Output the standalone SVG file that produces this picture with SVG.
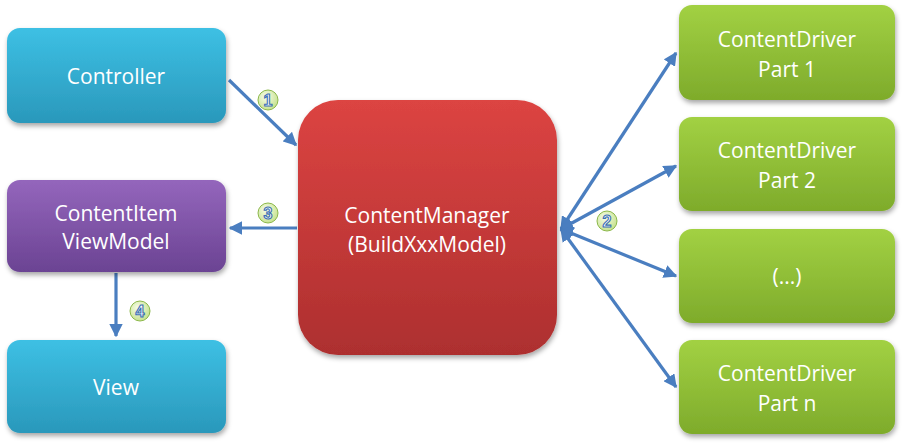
<svg xmlns="http://www.w3.org/2000/svg" width="904" height="443" viewBox="0 0 904 443">
<defs>
<linearGradient id="gCyan" x1="0" y1="0" x2="0" y2="1"><stop offset="0" stop-color="#3dc0e4"/><stop offset="1" stop-color="#2a98bb"/></linearGradient>
<linearGradient id="gPurple" x1="0" y1="0" x2="0" y2="1"><stop offset="0" stop-color="#9466bc"/><stop offset="1" stop-color="#6b4393"/></linearGradient>
<linearGradient id="gRed" x1="0" y1="0" x2="0" y2="1"><stop offset="0" stop-color="#dc4442"/><stop offset="1" stop-color="#ad2f2f"/></linearGradient>
<linearGradient id="gGreen" x1="0" y1="0" x2="0" y2="1"><stop offset="0" stop-color="#a2d143"/><stop offset="1" stop-color="#7eab2b"/></linearGradient>
<radialGradient id="gBadge" cx="0.4" cy="0.35" r="0.7"><stop offset="0" stop-color="#f7fde8"/><stop offset="1" stop-color="#c3e08a"/></radialGradient>
<filter id="sh" x="-10%" y="-10%" width="120%" height="125%"><feDropShadow dx="1" dy="3" stdDeviation="2.5" flood-color="#000" flood-opacity="0.35"/></filter>
<marker id="ah" viewBox="0 0 10 10" refX="9" refY="5" markerWidth="4.2" markerHeight="4.2" orient="auto-start-reverse" markerUnits="strokeWidth"><path d="M0,0 L10,5 L0,10 z" fill="#4a7ec0"/></marker>
</defs>
<style>
.box{stroke:none;filter:url(#sh)}
.t{font-family:"Open Sans","Liberation Sans",sans-serif;font-size:21px;fill:#ffffff;text-anchor:middle}
.c{stroke:#4a7ec0;stroke-width:3.2;fill:none}
.bc{fill:url(#gBadge);stroke:#8cb84a;stroke-width:1}
.bt{font-family:"Liberation Sans",sans-serif;font-size:16px;font-weight:bold;fill:#ffffff;stroke:#3b6fb3;stroke-width:1.1;text-anchor:middle}
</style>
<rect width="904" height="443" fill="#ffffff"/>
<g id="connectors">
<line class="c" x1="229" y1="80" x2="296" y2="145" marker-end="url(#ah)"/>
<line class="c" x1="297" y1="228" x2="230" y2="228" marker-end="url(#ah)"/>
<line class="c" x1="116" y1="273" x2="116" y2="336" marker-end="url(#ah)"/>
<line class="c" x1="561" y1="229" x2="676" y2="53" marker-start="url(#ah)" marker-end="url(#ah)"/>
<line class="c" x1="561" y1="229" x2="676" y2="166" marker-start="url(#ah)" marker-end="url(#ah)"/>
<line class="c" x1="561" y1="229" x2="676" y2="276" marker-start="url(#ah)" marker-end="url(#ah)"/>
<line class="c" x1="561" y1="229" x2="676" y2="387" marker-start="url(#ah)" marker-end="url(#ah)"/>
<g id="badge1"><circle class="bc" cx="268" cy="100" r="10"/><text class="bt" x="268" y="106">1</text></g>
<g id="badge2"><circle class="bc" cx="607" cy="221" r="10"/><text class="bt" x="607" y="227">2</text></g>
<g id="badge3"><circle class="bc" cx="268" cy="213" r="10"/><text class="bt" x="268" y="219">3</text></g>
<g id="badge4"><circle class="bc" cx="140" cy="311" r="10"/><text class="bt" x="140" y="317">4</text></g>
</g>
<g id="controller"><rect class="box" x="7" y="28" width="219" height="95" rx="13" fill="url(#gCyan)"/><text class="t" x="116" y="84">Controller</text></g>
<g id="contentitem"><rect class="box" x="7" y="180" width="219" height="92" rx="13" fill="url(#gPurple)"/><text class="t" x="116" y="221">ContentItem</text><text class="t" x="116" y="249">ViewModel</text></g>
<g id="view"><rect class="box" x="7" y="340" width="219" height="93" rx="13" fill="url(#gCyan)"/><text class="t" x="116" y="395">View</text></g>
<g id="contentmanager"><rect class="box" x="298" y="100" width="259" height="255" rx="40" fill="url(#gRed)"/><text class="t" x="427" y="223">ContentManager</text><text class="t" x="427" y="252">(BuildXxxModel)</text></g>
<g id="driver1"><rect class="box" x="679" y="5" width="216" height="95" rx="13" fill="url(#gGreen)"/><text class="t" x="787" y="47">ContentDriver</text><text class="t" x="787" y="77">Part 1</text></g>
<g id="driver2"><rect class="box" x="679" y="117" width="216" height="94" rx="13" fill="url(#gGreen)"/><text class="t" x="787" y="158">ContentDriver</text><text class="t" x="787" y="188">Part 2</text></g>
<g id="driver3"><rect class="box" x="679" y="229" width="216" height="94" rx="13" fill="url(#gGreen)"/><text class="t" x="787" y="284">(...)</text></g>
<g id="drivern"><rect class="box" x="679" y="340" width="216" height="94" rx="13" fill="url(#gGreen)"/><text class="t" x="787" y="381">ContentDriver</text><text class="t" x="787" y="411">Part n</text></g>
</svg>
